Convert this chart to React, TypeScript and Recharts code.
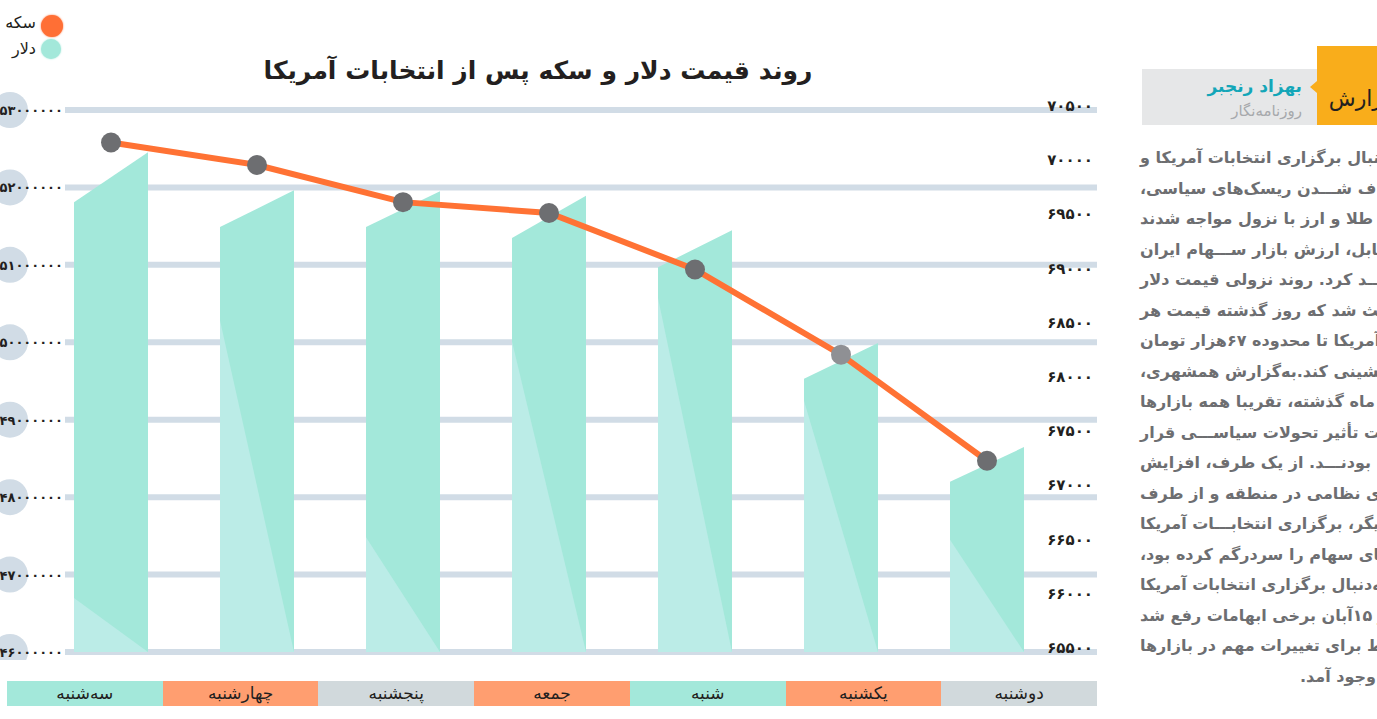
import { ComposedChart, Bar, Line, XAxis, YAxis, CartesianGrid } from "recharts";

// روزها از چپ به راست
const days = ["سه‌شنبه", "چهارشنبه", "پنجشنبه", "جمعه", "شنبه", "یکشنبه", "دوشنبه"];

// قیمت سکه (تومان)
const coinPrices = [52580000, 52290000, 51810000, 51670000, 50940000, 49840000, 48470000];

// قیمت دلار: لبه راست و لبه چپ هر ستون
const dollarHigh = [70110, 69760, 69750, 69710, 69390, 68350, 67390];
const dollarLow = [69650, 69420, 69420, 69320, 69050, 68020, 67070];

const coinTicks = [46000000, 47000000, 48000000, 49000000, 50000000, 51000000, 52000000, 53000000];
const dollarTicks = [65500, 66000, 66500, 67000, 67500, 68000, 68500, 69000, 69500, 70000, 70500];

const articleLines = [
  "به‌دنبال برگزاری انتخابات آمریکا و",
  "شفاف شـــدن ریسک‌های سیاسی،",
  "بازارهای طلا و ارز با نزول مواجه شدند",
  "و در مقابل، ارزش بازار ســـهام ایران",
  "رشد خواهـــد کرد. روند نزولی قیمت دلار",
  "باعث شد که روز گذشته قیمت هر",
  "دلار آمریکا تا محدوده ۶۷هزار تومان",
  "عقب‌نشینی کند.به‌گزارش همشهری،",
  "طی یک ماه گذشته، تقریبا همه بازارها",
  "تحت تأثیر تحولات سیاســـی قرار",
  "گرفته بودنـــد. از یک طرف، افزایش",
  "تنش‌های نظامی در منطقه و از طرف",
  "دیگر، برگزاری انتخابـــات آمریکا",
  "بازارهای سهام را سردرگم کرده بود،",
  "اما به‌دنبال برگزاری انتخابات آمریکا",
  "در روز ۱۵آبان برخی ابهامات رفع شد",
  "و شرایط برای تغییرات مهم در بازارها",
  "به وجود آمد.",
];

// styles
const FONT = "'DejaVu Sans', sans-serif";
const TEAL = "#a3e8da";
const TEAL_LIGHT = "#bbece7";
const ORANGE = "#ff7234";
const GRID = "#d1dce6";
const stripColors = ["#a3e8da", "#ff9e70", "#d1d9dc", "#ff9e70", "#a3e8da", "#ff9e70", "#d1d9dc"];
const shadeRatio = [0.12, 0.78, 0.27, 0.75, 0.92, 0.92, 0.66];

const data = days.map((day, i) => ({
  day,
  coin: coinPrices[i],
  dollarHigh: dollarHigh[i],
  dollarLow: dollarLow[i],
}));

const fa = (n: number | string) => String(n).replace(/\d/g, (d) => "۰۱۲۳۴۵۶۷۸۹"[+d]);

const DollarShape = (props: any) => {
  const { x, y, width, height, payload, index } = props;
  const bottom = y + height;
  const perUnit = height / (payload.dollarHigh - dollarTicks[0]);
  const leftTop = bottom - (payload.dollarLow - dollarTicks[0]) * perUnit;
  const shadeY = bottom - (bottom - leftTop) * shadeRatio[index];
  return (
    <g>
      <polygon
        points={`${x},${bottom} ${x},${leftTop} ${x + width},${y} ${x + width},${bottom}`}
        fill={TEAL}
      />
      <polygon points={`${x},${bottom} ${x},${shadeY} ${x + width},${bottom}`} fill={TEAL_LIGHT} />
    </g>
  );
};

const CoinTick = ({ x, y, payload }: any) => (
  <g>
    <circle cx={x - 53} cy={y} r={18} fill={GRID} />
    <text
      x={x}
      y={y}
      dy={5}
      textAnchor="end"
      fill="#231f20"
      fontFamily={FONT}
      fontWeight="bold"
      fontSize={13}
      letterSpacing={-0.4}
    >
      {fa(payload.value)}
    </text>
  </g>
);

const DollarTick = ({ x, y, payload }: any) => (
  <text
    x={x}
    y={y}
    dy={1}
    textAnchor="end"
    fill="#231f20"
    fontFamily={FONT}
    fontWeight="bold"
    fontSize={15}
  >
    {fa(payload.value)}
  </text>
);

const CoinDot = ({ cx, cy, index }: any) => (
  <circle key={`dot-${index}`} cx={cx} cy={cy} r={10} fill={index === 5 ? "#8f9094" : "#6d6e71"} />
);

export default function App() {
  return (
    <div
      style={{
        position: "absolute",
        left: 0,
        top: 0,
        width: 1377,
        height: 719,
        overflow: "hidden",
        background: "#fff",
        fontFamily: FONT,
      }}
    >
      {/* legend */}
      <div style={{ position: "absolute", left: -40, top: 10, width: 76, direction: "rtl" }}>
        <div style={{ fontSize: 16, color: "#231f20", lineHeight: "26px", textAlign: "right" }}>سکه</div>
        <div style={{ fontSize: 16, color: "#231f20", lineHeight: "26px", textAlign: "right" }}>دلار</div>
      </div>
      <div
        style={{
          position: "absolute",
          left: 41,
          top: 15,
          width: 22,
          height: 22,
          borderRadius: "50%",
          background: "#ff6f35",
          boxShadow: "0 0 2px #ff6f35",
        }}
      />
      <div
        style={{
          position: "absolute",
          left: 41,
          top: 39,
          width: 20,
          height: 20,
          borderRadius: "50%",
          background: TEAL,
          boxShadow: "0 0 2px " + TEAL,
        }}
      />

      {/* title */}
      <div
        style={{
          position: "absolute",
          left: 238,
          top: 56,
          width: 600,
          textAlign: "center",
          direction: "rtl",
          fontSize: 25,
          fontWeight: "bold",
          color: "#231f20",
        }}
      >
        روند قیمت دلار و سکه پس از انتخابات آمریکا
      </div>

      <div style={{ position: "absolute", left: 0, top: 0 }}>
        <ComposedChart width={1097} height={660} data={data} margin={{ top: 110, right: 0, bottom: 8, left: 0 }}>
          <CartesianGrid yAxisId="coin" vertical={false} stroke={GRID} strokeWidth={6} />
          <XAxis dataKey="day" hide padding={{ left: -27, right: 37 }} />
          <YAxis
            yAxisId="coin"
            orientation="left"
            width={65}
            domain={[coinTicks[0], coinTicks[coinTicks.length - 1]]}
            ticks={coinTicks}
            interval={0}
            axisLine={false}
            tickLine={false}
            tickSize={0}
            tickMargin={2}
            tick={<CoinTick />}
          />
          <YAxis
            yAxisId="dollar"
            orientation="right"
            mirror
            domain={[dollarTicks[0], dollarTicks[dollarTicks.length - 1]]}
            ticks={dollarTicks}
            interval={0}
            axisLine={false}
            tickLine={false}
            tickSize={0}
            tickMargin={4}
            tick={<DollarTick />}
          />
          <Bar
            yAxisId="dollar"
            dataKey="dollarHigh"
            barSize={74}
            shape={(p: any) => <DollarShape {...p} />}
            isAnimationActive={false}
          />
          <Line
            yAxisId="coin"
            dataKey="coin"
            type="linear"
            stroke={ORANGE}
            strokeWidth={6}
            dot={(p: any) => <CoinDot {...p} />}
            activeDot={false}
            isAnimationActive={false}
          />
        </ComposedChart>
      </div>

      {/* category strip */}
      <div style={{ position: "absolute", left: 7, top: 681, width: 1090, height: 25, display: "flex" }}>
        {days.map((d, i) => (
          <div
            key={d}
            style={{
              flex: 1,
              background: stripColors[i],
              textAlign: "center",
              direction: "rtl",
              fontSize: 17,
              lineHeight: "25px",
              color: "#231f20",
            }}
          >
            {d}
          </div>
        ))}
      </div>

      {/* article header */}
      <div style={{ position: "absolute", left: 1142, top: 69, width: 176, height: 56, background: "#e6e7e8" }} />
      <div style={{ position: "absolute", left: 1317, top: 46, width: 60, height: 79, background: "#f9ad1b" }} />
      <div
        style={{
          position: "absolute",
          left: 1310,
          top: 81,
          width: 0,
          height: 0,
          borderTop: "6px solid transparent",
          borderBottom: "6px solid transparent",
          borderRight: "7px solid #f9ad1b",
        }}
      />
      <div
        style={{
          position: "absolute",
          right: -18,
          top: 86,
          direction: "rtl",
          fontSize: 22,
          color: "#231f20",
          whiteSpace: "nowrap",
        }}
      >
        گزارش
      </div>
      <div
        style={{
          position: "absolute",
          right: 75,
          top: 76,
          direction: "rtl",
          fontSize: 17,
          fontWeight: "bold",
          color: "#13a6b8",
          whiteSpace: "nowrap",
        }}
      >
        بهزاد رنجبر
      </div>
      <div
        style={{
          position: "absolute",
          right: 75,
          top: 102,
          direction: "rtl",
          fontSize: 15,
          color: "#a7a9ac",
          whiteSpace: "nowrap",
        }}
      >
        روزنامه‌نگار
      </div>

      {/* article body */}
      {articleLines.map((line, i) => (
        <div
          key={i}
          style={{
            position: "absolute",
            left: i === articleLines.length - 1 ? 1300 : 1140,
            top: 147 + i * 30.5,
            direction: "rtl",
            whiteSpace: "nowrap",
            fontSize: 16,
            fontWeight: "bold",
            color: "#6d6e71",
            lineHeight: "22px",
          }}
        >
          {line}
        </div>
      ))}
    </div>
  );
}
